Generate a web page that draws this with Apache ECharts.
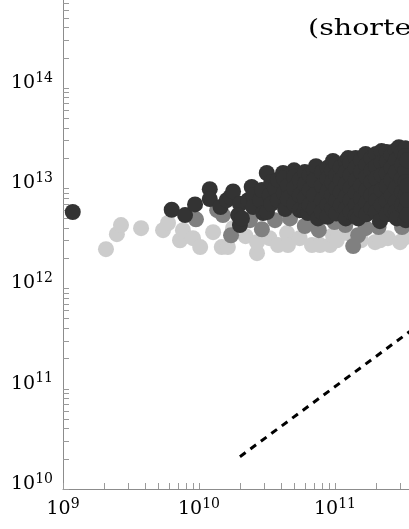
<!DOCTYPE html>
<html>
<head>
<meta charset="utf-8">
<script src="https://cdn.jsdelivr.net/npm/echarts@6/dist/echarts.min.js"></script>
<style>html,body{margin:0;padding:0;background:#fff}#c{width:409px;height:529px}</style>
</head>
<body>
<div id="c"></div>
<script>
// ---- data ----
const xMajorTicks = [1e9, 1e10, 1e11];
const yMajorTicks = [1e10, 1e11, 1e12, 1e13, 1e14];
const lightPts = [[2.07e9,2.47e12],[2.49e9,3.48e12],[2.67e9,4.29e12],[3.75e9,4.0e12],[5.44e9,3.82e12],[5.92e9,4.5e12],[7.25e9,3.03e12],[7.62e9,3.82e12],[9.03e9,3.18e12],[1.02e10,2.59e12],[1.27e10,3.65e12],[1.47e10,2.59e12],[1.63e10,2.59e12],[1.78e10,4.0e12],[2.2e10,3.33e12],[2.67e10,2.25e12],[2.67e10,2.9e12],[3.3e10,3.18e12],[3.81e10,2.71e12],[4.44e10,3.57e12],[4.51e10,2.71e12],[5.5e10,3.18e12],[6.77e10,2.71e12],[7.76e10,2.71e12],[9.19e10,2.71e12],[9.66e10,3.4e12],[1.03e11,3.03e12],[1.23e11,3.57e12],[1.55e11,3.03e12],[1.97e11,2.9e12],[2.14e11,3.03e12],[2.45e11,3.18e12],[3.01e11,2.9e12],[3.27e11,3.25e12]];
const midPts = [[9.5e9,4.9e12],[1.36e10,6.05e12],[1.5e10,5.4e12],[1.72e10,3.4e12],[2.37e10,4.8e12],[2.9e10,3.9e12],[3.62e10,4.8e12],[4.67e10,5.0e12],[6.0e10,4.2e12],[6.77e10,5.0e12],[7.6e10,3.82e12],[9.9e10,4.6e12],[1.19e11,4.3e12],[1.36e11,2.65e12],[1.48e11,3.4e12],[1.68e11,4.0e12],[2.09e11,4.1e12],[3.11e11,4.1e12]];
const darkPts = [[1.18e9,5.8e12],[6.3e9,6.1e12],[7.9e9,5.4e12],[9.35e9,6.9e12],[1.2e10,9.8e12],[1.2e10,7.8e12],[1.44e10,6.5e12],[1.6e10,7.6e12],[1.7e10,8.2e12],[1.78e10,9.3e12],[2.0e10,4.3e12],[2.0e10,7.0e12],[1.94e10,5.4e12],[2.07e10,5.0e12],[2.3e10,7.6e12],[2.44e10,1.03e13],[2.5e10,8.5e12],[2.5e10,6.5e12],[2.81e10,7.6e12],[2.9e10,9.6e12],[2.96e10,5.65e12],[3.15e10,1.42e13],[3.16e10,5.8e12],[3.3e10,8.5e12],[3.4e10,1.15e13],[3.4e10,7.0e12],[3.62e10,1.0e13],[3.8e10,1.21e13],[3.8e10,7.6e12],[4.15e10,1.42e13],[4.2e10,1.25e13],[4.2e10,9.0e12],[4.3e10,6.2e12],[4.5e10,1.06e13],[4.5e10,7.9e12],[5.0e10,1.51e13],[5.0e10,1.3e13],[5.0e10,1.0e13],[5.0e10,7.0e12],[5.5e10,1.21e13],[5.5e10,8.5e12],[5.5e10,6.05e12],[6.0e10,1.45e13],[6.0e10,1.1e13],[6.0e10,8.0e12],[6.0e10,6.0e12],[6.32e10,5.65e12],[6.5e10,1.35e13],[6.5e10,9.6e12],[6.5e10,6.8e12],[7.0e10,1.5e13],[7.0e10,1.2e13],[7.0e10,8.5e12],[7.0e10,6.2e12],[7.25e10,1.66e13],[7.5e10,5.0e12],[8e10,1.45e13],[8e10,1.06e13],[8e10,7.6e12],[8e10,5.8e12],[8.8e10,1.6e13],[8.8e10,1.25e13],[8.8e10,9.3e12],[8.8e10,6.8e12],[8.8e10,5.2e12],[9.66e10,1.87e13],[9.5e10,1.5e13],[9.5e10,1.15e13],[9.5e10,8.5e12],[9.5e10,6.3e12],[1.02e11,1.75e13],[1.02e11,1.35e13],[1.02e11,1.0e13],[1.02e11,7.5e12],[1.02e11,5.6e12],[1.1e11,1.62e13],[1.1e11,1.21e13],[1.1e11,9.1e12],[1.1e11,6.8e12],[1.2e11,1.85e13],[1.2e11,1.45e13],[1.2e11,1.1e13],[1.2e11,8.2e12],[1.2e11,6.2e12],[1.2e11,5.0e12],[1.25e11,2.0e13],[1.3e11,1.8e13],[1.3e11,1.35e13],[1.3e11,1.0e13],[1.3e11,7.6e12],[1.3e11,5.8e12],[1.42e11,2.0e13],[1.42e11,1.6e13],[1.42e11,1.2e13],[1.42e11,9.0e12],[1.42e11,6.8e12],[1.42e11,5.3e12],[1.48e11,5.0e12],[1.55e11,1.9e13],[1.55e11,1.45e13],[1.55e11,1.06e13],[1.55e11,7.9e12],[1.55e11,6.05e12],[1.68e11,2.2e13],[1.7e11,1.7e13],[1.7e11,1.3e13],[1.7e11,9.5e12],[1.7e11,7.2e12],[1.7e11,5.5e12],[1.85e11,2.0e13],[1.85e11,1.5e13],[1.85e11,1.15e13],[1.85e11,8.5e12],[1.85e11,6.3e12],[2.0e11,2.2e13],[2.0e11,1.65e13],[2.0e11,1.25e13],[2.0e11,9.0e12],[2.0e11,7.5e12],[2.0e11,5.8e12],[2.14e11,4.7e12],[2.2e11,2.35e13],[2.2e11,1.8e13],[2.2e11,1.35e13],[2.2e11,9.6e12],[2.2e11,6.8e12],[2.4e11,2.3e13],[2.4e11,1.85e13],[2.4e11,1.4e13],[2.4e11,1.05e13],[2.4e11,7.5e12],[2.4e11,5.5e12],[2.6e11,2.15e13],[2.6e11,1.6e13],[2.6e11,1.21e13],[2.6e11,8.5e12],[2.6e11,6.05e12],[2.8e11,2.4e13],[2.8e11,1.9e13],[2.8e11,1.45e13],[2.8e11,1.0e13],[2.8e11,7.3e12],[2.8e11,5.8e12],[2.85e11,5.0e12],[2.95e11,2.57e13],[3.1e11,2.3e13],[3.1e11,1.7e13],[3.1e11,1.25e13],[3.1e11,9.1e12],[3.1e11,6.8e12],[3.3e11,2.5e13],[3.3e11,2.1e13],[3.3e11,1.5e13],[3.3e11,1.15e13],[3.3e11,8.5e12],[3.3e11,6.3e12],[3.3e11,4.8e12],[3.4e11,1.9e13],[3.4e11,1.06e13],[3.4e11,7.6e12],[3.4e11,5.4e12]];
const refLineX = [2e10, 1e12];
const refLineY = [2.1e10, 1.05e12];
const titleText = '(shorter';

// ---- build ----
function minorList(majors) {
  const out = [];
  majors.forEach(m => { for (let k = 1; k <= 9; k++) out.push(m * k); });
  return out;
}
const xTicks = minorList(xMajorTicks);
const yTicks = minorList(yMajorTicks);
const serif = '"DejaVu Serif", "Liberation Serif", serif';
const labelFmt = v => '{b|10}{s|' + Math.round(Math.log10(v)) + '}';
const rich = {
  b: { fontSize: 19, fontFamily: serif, color: '#000', lineHeight: 24 },
  s: { fontSize: 14, fontFamily: serif, color: '#000', lineHeight: 14, verticalAlign: 'top' }
};
const axisCommon = {
  type: 'log', logBase: 10,
  axisLine: { show: true, lineStyle: { color: '#8c8c8c', width: 1 } },
  axisTick: { show: true, inside: true, length: 6, lineStyle: { color: '#9a9a9a', width: 1 } },
  splitLine: { show: false },
  minorTick: { show: false }
};
const chart = echarts.init(document.getElementById('c'), null, { renderer: 'canvas' });
chart.setOption({
  animation: false,
  backgroundColor: '#fff',
  grid: { left: 63, right: 0, top: 0, bottom: 40, containLabel: false },
  xAxis: Object.assign({}, axisCommon, {
    min: 1e9, max: 3.5e11,
    axisTick: Object.assign({}, axisCommon.axisTick, { customValues: xTicks }),
    axisLabel: { customValues: xMajorTicks, formatter: labelFmt, rich: rich, margin: 8 }
  }),
  yAxis: Object.assign({}, axisCommon, {
    min: 1e10, max: 7.55e14,
    axisTick: Object.assign({}, axisCommon.axisTick, { customValues: yTicks }),
    axisLabel: { customValues: yMajorTicks, formatter: labelFmt, rich: rich, margin: 10, verticalAlign: 'middle', padding: [0, 0, 10, 0] }
  }),
  graphic: [{
    type: 'text', x: 308, y: 18, scaleX: 1.24,
    style: { text: titleText, font: '23px ' + serif, fill: '#000', textVerticalAlign: 'top' }
  }],
  series: [
    { type: 'scatter', data: lightPts, symbolSize: 16, itemStyle: { color: '#cccccc', opacity: 1 } },
    { type: 'scatter', data: midPts, symbolSize: 16, itemStyle: { color: '#808080', opacity: 1 } },
    { type: 'scatter', data: darkPts, symbolSize: 16, itemStyle: { color: '#333333', opacity: 1 } },
    { type: 'line', data: refLineX.map((x, i) => [x, refLineY[i]]), showSymbol: false, symbol: 'none', clip: true,
      lineStyle: { color: '#000', width: 3, type: [7, 6] } }
  ]
});
</script>
</body>
</html>
